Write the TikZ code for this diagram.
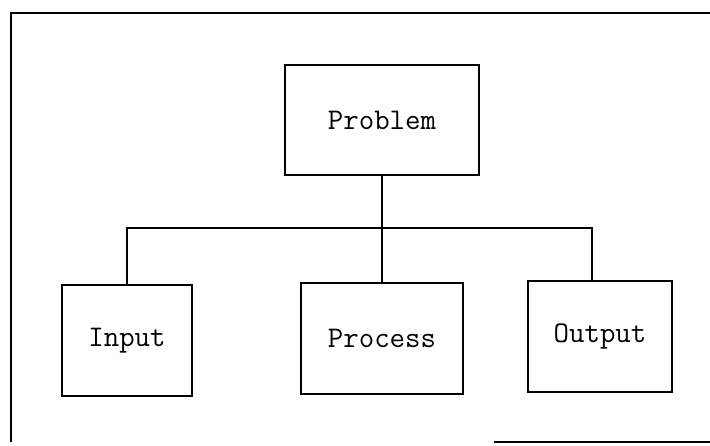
\documentclass[tikz,border=0pt]{standalone}
\usepackage{fontspec}
\usepackage{tikz}

\begin{document}
\begin{tikzpicture}[x=1pt, y=-1pt,
        block/.style={draw, line width=2pt, minimum height=111pt, inner sep=0pt,
                      font=\ttfamily\fontsize{30}{32}\selectfont},
        link/.style={line width=1.6pt}]
        \useasboundingbox (0,0) rectangle (710,445);

        % frame (partly lost in the scan)
        \draw[line width=1.4pt] (11,442) -- (11,13) -- (710,13);
        \draw[line width=1.4pt] (494,442) -- (710,442);

        \coordinate (problem_c) at (382,120);
        \coordinate (bus) at (382,228);

        \node[block, minimum width=194pt, minimum height=110pt] (problem) at (problem_c) {Problem};
        \node[block, minimum width=130pt] (input) at (127,340.5) {Input};
        \node[block, minimum width=162pt] (process) at (382,338.5) {Process};
        \node[block, minimum width=144pt] (output) at (600,336.5) {Output};

        \draw[link] (problem.south) -- (process.north);
        \draw[link] (input.north -| 127,0) |- (bus) -| (output.north -| 592,0);
        \end{tikzpicture}
\end{document}
